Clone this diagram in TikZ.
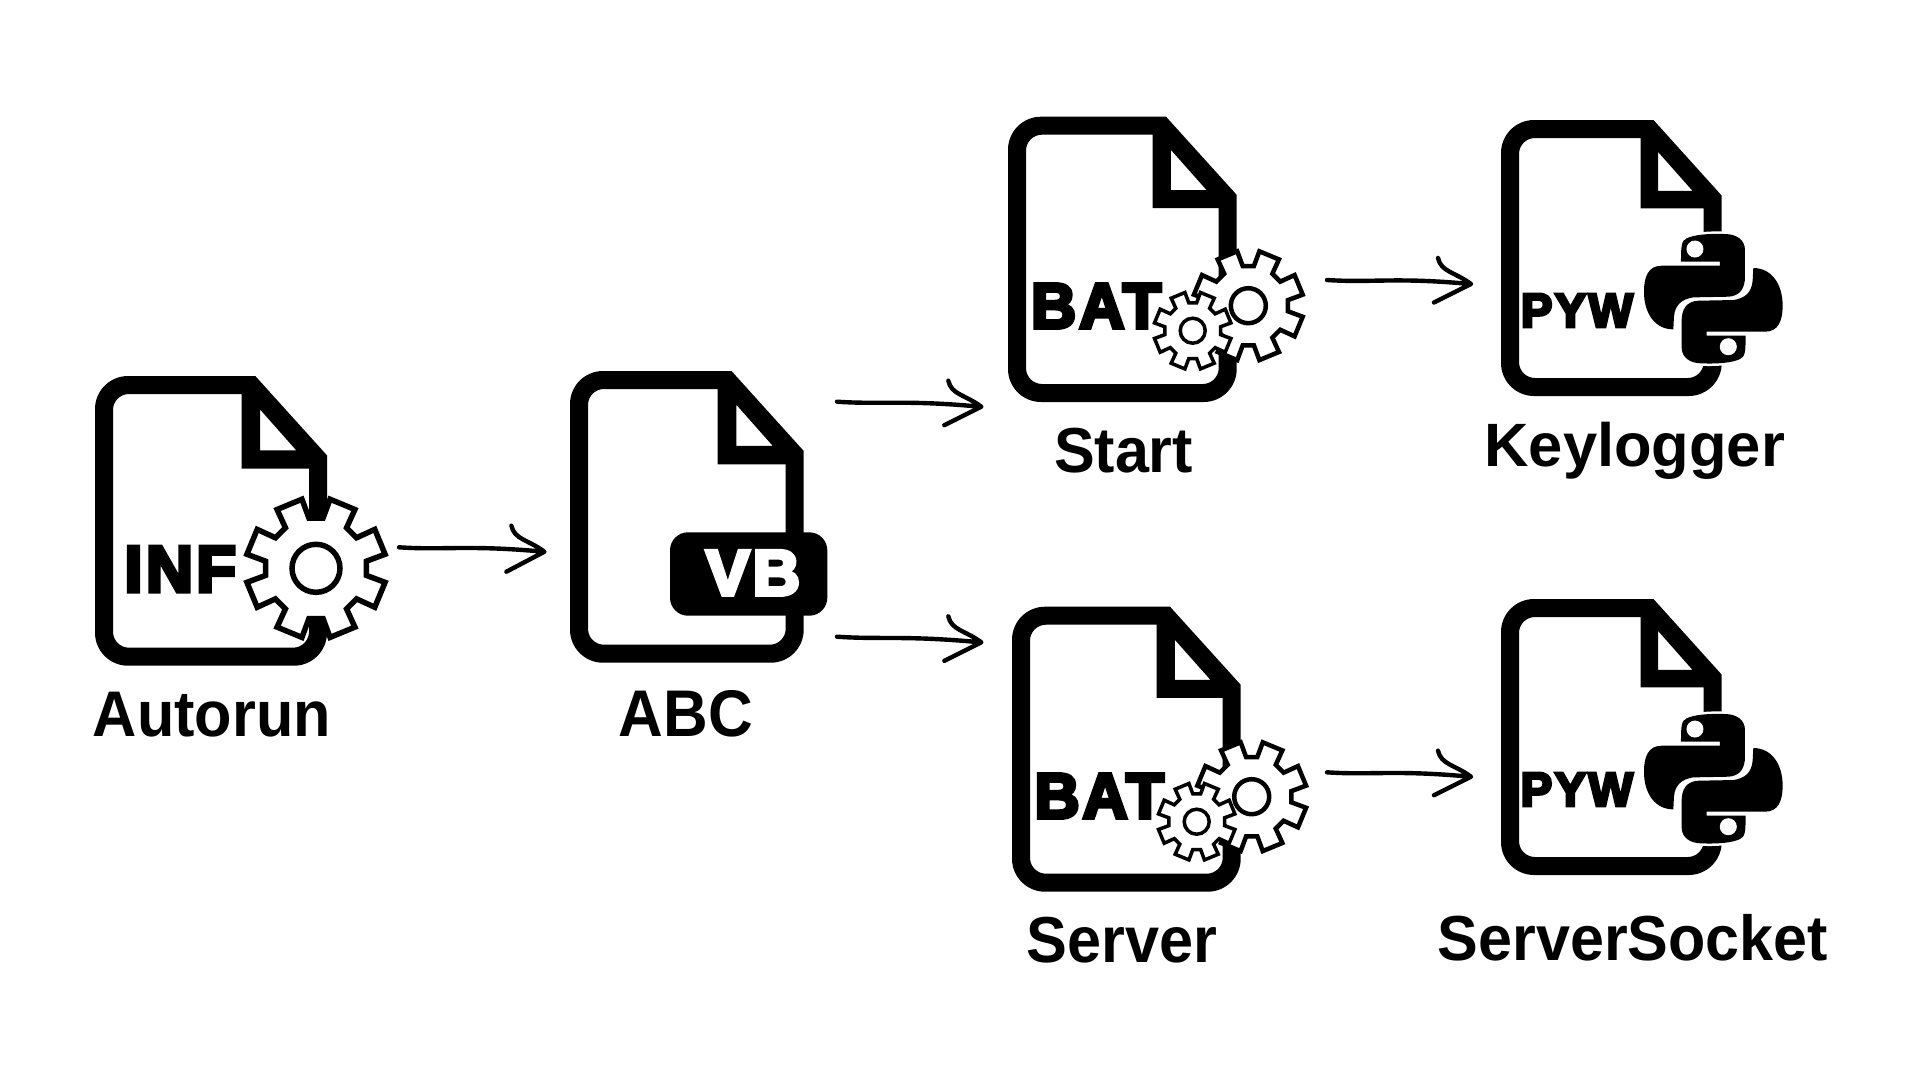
\documentclass[tikz,border=0pt]{standalone}
\usepackage{graphicx}
\usepackage{fontspec}
\newfontfamily\labelfont{Liberation Sans Bold}
\newfontfamily\heavyfont[FakeBold=6,LetterSpace=5]{Liberation Sans Bold}
\usetikzlibrary{calc}
\tikzset{
  txt/.style={inner sep=0pt,outer sep=0pt,text=black},
  whitetxt/.style={inner sep=0pt,outer sep=0pt,text=white},
  gearline/.style={draw=black,fill=white,miter limit=4},
  handline/.style={draw=black,line width=4.4pt,line cap=round,line join=round}
}
% file icon: left, top, right, bottom
\newcommand{\fileicon}[4]{%
  \pgfmathsetmacro{\Wd}{#3-#1}\pgfmathsetmacro{\Ht}{#4-#2}%
  \pgfmathsetmacro{\fx}{#1+.691*\Wd}\pgfmathsetmacro{\dy}{#2+.274*\Ht}%
  \pgfmathsetmacro{\ix}{#1+.632*\Wd}\pgfmathsetmacro{\iy}{#2+.32*\Ht}%
  \pgfmathsetmacro{\hx}{#1+.712*\Wd}\pgfmathsetmacro{\htop}{#2+.116*\Ht}%
  \pgfmathsetmacro{\hbot}{#2+.257*\Ht}\pgfmathsetmacro{\hr}{#1+.868*\Wd}%
  \fill[black,even odd rule]
    (\fx,#2) -- (#1+33,#2) arc[start angle=90,end angle=180,radius=33pt]
    -- (#1,#4-33) arc[start angle=180,end angle=270,radius=33pt]
    -- (#3-33,#4) arc[start angle=270,end angle=360,radius=33pt]
    -- (#3,\dy) -- cycle
    (\ix,#2+18) -- (#1+34,#2+18) arc[start angle=90,end angle=180,radius=16pt]
    -- (#1+18,#4-34) arc[start angle=180,end angle=270,radius=16pt]
    -- (#3-34,#4-18) arc[start angle=270,end angle=360,radius=16pt]
    -- (#3-18,\iy) -- (\ix,\iy) -- cycle
    (\hx,\htop) -- (\hx,\hbot) -- (\hr,\hbot) -- cycle;
}
% gear: cx, cy, tip radius, ring radius, stroke
\newcommand{\gearicon}[5]{%
  \begin{scope}[shift={(#1,#2)}]
    \pgfmathsetmacro{\rt}{#3}\pgfmathsetmacro{\rv}{.72*#3}%
    \draw[gearline,line width=#5pt] (8:\rv pt)
      \foreach \k in {0,...,7}{
        -- ({45*\k+8}:\rv pt) -- ({45*\k+11.5}:\rt pt)
        -- ({45*\k+33.5}:\rt pt) -- ({45*\k+37}:\rv pt)
      } -- cycle;
    \draw[black,line width=#5pt,fill=white] (0,0) circle[radius=#4 pt];
  \end{scope}
}
\newcommand{\snakepath}{
  (603,485) -- (720,485) -- (720,497) -- (545,497)
  .. controls (505,497) and (492,530) .. (492,575)
  .. controls (492,640) and (525,688) .. (580,688)
  -- (582,650) .. controls (585,615) and (605,597) .. (640,592)
  -- (745,590) .. controls (780,588) and (795,565) .. (795,530)
  -- (795,450) .. controls (795,420) and (770,402) .. (735,402)
  .. controls (680,400) and (640,405) .. (620,415)
  .. controls (605,422) and (603,435) .. (603,485) -- cycle
}
\newcommand{\pylogo}[2]{%
  \begin{scope}[shift={(#1,#2)},x=.33333pt,y=-.33333pt,shift={(-700,-596)}]
    \path[draw=white,line width=5pt,line join=round] \snakepath;
    \path[draw=white,line width=5pt,line join=round,rotate around={180:(700,596)}] \snakepath;
    \fill[black] \snakepath;
    \fill[black,rotate around={180:(700,596)}] \snakepath;
    \fill[white] (645,447) circle[radius=8.5pt];
    \fill[white] (745,740) circle[radius=8.5pt];
  \end{scope}
}
% fitted text: name, style, x0, x1, y0, y1, content
\newcommand{\fitnode}[7]{%
  \pgfmathsetmacro{\cxx}{(#3+#4)/2}\pgfmathsetmacro{\cyy}{(#5+#6)/2}%
  \pgfmathsetmacro{\wdd}{#4-#3}\pgfmathsetmacro{\htt}{#6-#5}%
  \node[#2] (#1) at (\cxx,\cyy) {\resizebox*{\wdd pt}{\htt pt}{#7}};
}
% hand drawn arrow: start, tip, head top offset, head bottom offset
\newcommand{\handarrow}[4]{%
  \draw[handline] (#1) .. controls +(45,3) and +(-75,-7) .. ($(#2)+(-1,0)$)
    ($(#2)+#3$) .. controls +(3,14) and +(-16,-12) .. (#2) -- ($(#2)+#4$);
}
\begin{document}
\begin{tikzpicture}[x=1pt,y=-1pt]
\useasboundingbox (0,0) rectangle (1920,1080);
\fill[white] (0,0) rectangle (1920,1080);
% Autorun
\fileicon{95}{376}{327}{665.7}
\fitnode{infText}{txt}{124.5}{236}{546.7}{591.7}{\heavyfont INF}
\gearicon{316}{568.3}{70.5}{24}{5.5}
\fitnode{lblAutorun}{txt}{93}{331}{691.7}{736.7}{\labelfont Autorun}
% ABC
\fileicon{570}{371}{803.7}{662.7}
\fill[black,rounded corners=18pt] (670,532.3) rectangle (827.3,615.7);
\fitnode{vbText}{whitetxt}{706}{800}{550.7}{595}{\heavyfont VB}
\fitnode{lblABC}{txt}{619}{753}{690}{736.7}{\labelfont ABC}
% Start
\fileicon{1008}{116.7}{1236.7}{402}
\fitnode{batStart}{txt}{1031}{1161}{284}{328}{\heavyfont BAT}
\gearicon{1248.3}{305.7}{55.5}{17.5}{4.5}
\gearicon{1192.7}{330.7}{39}{12.5}{3.5}
\fitnode{lblStart}{txt}{1054}{1193}{428}{473}{\labelfont Start}
% Keylogger
\fileicon{1501}{120}{1721.7}{396}
\fitnode{pywTop}{txt}{1521}{1633}{294}{327}{\heavyfont PYW}
\pylogo{1713.3}{298.7}
\fitnode{lblKeylogger}{txt}{1484.5}{1785}{421.7}{479}{\labelfont Keylogger}
% Server
\fileicon{1012}{606.7}{1240.7}{891.7}
\fitnode{batServer}{txt}{1034.7}{1164}{774}{818}{\heavyfont BAT}
\gearicon{1251.7}{796.7}{55.5}{17.5}{4.5}
\gearicon{1196.7}{821.7}{39}{12.5}{3.5}
\fitnode{lblServer}{txt}{1026.5}{1217}{916.7}{962.7}{\labelfont Server}
% ServerSocket
\fileicon{1501}{599}{1721.7}{875}
\fitnode{pywBottom}{txt}{1520.7}{1633}{773}{806}{\heavyfont PYW}
\pylogo{1713.3}{778.7}
\fitnode{lblServerSocket}{txt}{1438}{1828}{914}{960.7}{\labelfont ServerSocket}
% connectors
\coordinate (autorunOut) at (399,547.3);
\coordinate (abcIn) at (544.4,551.7);
\coordinate (abcOutA) at (837,401.7);
\coordinate (startIn) at (981.3,406.7);
\coordinate (abcOutB) at (837,636.7);
\coordinate (serverIn) at (981.3,642.3);
\coordinate (startOut) at (1327,280);
\coordinate (keyIn) at (1471,284);
\coordinate (serverOut) at (1327,772.3);
\coordinate (socketIn) at (1471,776.7);
\handarrow{autorunOut}{abcIn}{(-33,-26)}{(-38,20)}
\handarrow{abcOutA}{startIn}{(-33,-26)}{(-37,18.5)}
\handarrow{abcOutB}{serverIn}{(-33,-26)}{(-37,18.5)}
\handarrow{startOut}{keyIn}{(-33,-26)}{(-37,18.5)}
\handarrow{serverOut}{socketIn}{(-33,-26)}{(-37,18.5)}
\end{tikzpicture}
\end{document}
